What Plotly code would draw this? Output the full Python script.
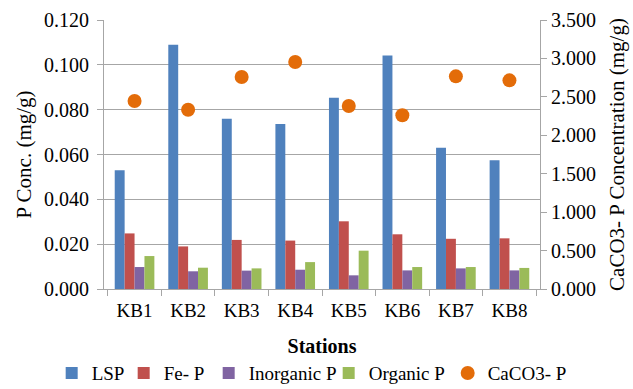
import plotly.graph_objects as go

stations = ["KB1", "KB2", "KB3", "KB4", "KB5", "KB6", "KB7", "KB8"]
lsp = [0.053, 0.109, 0.076, 0.0736, 0.0853, 0.1042, 0.0630, 0.0574]
fe_p = [0.0248, 0.0190, 0.0219, 0.0216, 0.0302, 0.0244, 0.0224, 0.0226]
inorganic_p = [0.0098, 0.0079, 0.0082, 0.0086, 0.0061, 0.0083, 0.0092, 0.0083]
organic_p = [0.0147, 0.0095, 0.0092, 0.0120, 0.0171, 0.0098, 0.0098, 0.0094]
caco3_p = [2.446, 2.333, 2.758, 2.954, 2.381, 2.260, 2.767, 2.715]

FONT = "Liberation Serif"
GRID = "#a6a6a6"

fig = go.Figure()
# (name, values, colour, legend entry width)
bar_series = [
    ("LSP", lsp, "#4f81bd", 27),
    ("Fe- P", fe_p, "#c0504d", 40),
    ("Inorganic P", inorganic_p, "#8064a2", 75),
    ("Organic P", organic_p, "#9bbb59", 74),
]
for name, vals, col, lw in bar_series:
    fig.add_trace(go.Bar(x=stations, y=vals, name=name, marker_color=col,
                         marker_line_width=0, legendwidth=lw))

fig.add_trace(go.Scatter(x=stations, y=caco3_p, name="CaCO3- P", mode="markers",
                         yaxis="y2", marker=dict(color="#e36c09", size=14),
                         legendwidth=80))

fig.update_layout(
    width=633, height=389,
    margin=dict(l=104, r=93, t=20, b=100, autoexpand=False),
    paper_bgcolor="white", plot_bgcolor="white",
    font=dict(family=FONT, size=19, color="black"),
    barmode="group", bargap=0.26, bargroupgap=0,
    showlegend=True,
    legend=dict(orientation="h", x=-0.12, xanchor="left", y=-0.242, yanchor="top",
                font=dict(size=19), itemwidth=30, tracegroupgap=0),
    xaxis=dict(
        title=dict(text="<b>Stations</b>", font=dict(size=20), standoff=19),
        showline=True, linecolor=GRID, linewidth=1,
        ticks="outside", tickson="boundaries", ticklen=6, tickcolor=GRID,
        ticklabelstandoff=4,
        showgrid=False,
    ),
    yaxis=dict(
        title=dict(text="P Conc. (mg/g)", font=dict(size=21), standoff=6),
        range=[0, 0.12], dtick=0.02, tickformat=".3f",
        tickfont=dict(size=20), ticklabelstandoff=4,
        showline=True, linecolor=GRID, linewidth=1,
        ticks="outside", ticklen=6, tickcolor=GRID,
        showgrid=True, gridcolor=GRID, gridwidth=1,
        zeroline=False,
    ),
    yaxis2=dict(
        title=dict(text="CaCO3- P Concentration (mg/g)", font=dict(size=21), standoff=14),
        overlaying="y", side="right",
        range=[0, 3.5], dtick=0.5, tickformat=".3f",
        tickfont=dict(size=20),
        showline=True, linecolor=GRID, linewidth=1,
        ticks="outside", ticklen=6, tickcolor=GRID,
        showgrid=False, zeroline=False,
    ),
)

# page body has a default 8px margin; drop it so the figure sits at the corner
fig.write_html("out.html", config={"displayModeBar": False},
               post_script="document.body.style.margin = '0';")
